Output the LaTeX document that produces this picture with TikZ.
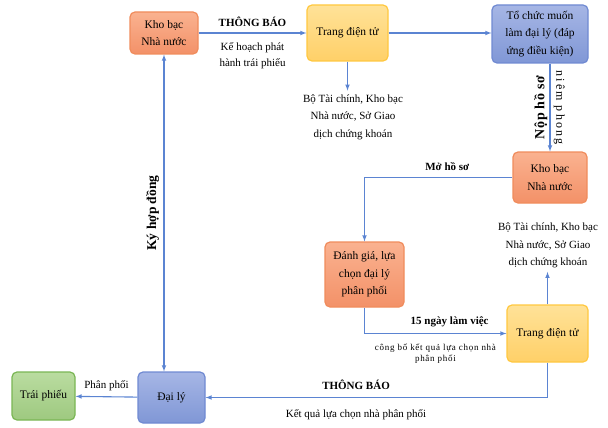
\documentclass[tikz,border=0pt]{standalone}
\usepackage{fontspec}
\setmainfont{Liberation Serif}
\usepackage{xcolor}
\usepackage{tikz}
\usetikzlibrary{shapes, arrows, positioning, calc}

\definecolor{lineblue}{RGB}{91,132,210}
\definecolor{orangetop}{RGB}{250,178,144}
\definecolor{orangebot}{RGB}{243,145,104}
\definecolor{orangeedge}{RGB}{240,140,92}
\definecolor{yellowtop}{RGB}{255,226,152}
\definecolor{yellowbot}{RGB}{255,208,104}
\definecolor{yellowedge}{RGB}{255,200,64}
\definecolor{bluetop}{RGB}{166,182,229}
\definecolor{bluebot}{RGB}{128,151,214}
\definecolor{blueedge}{RGB}{112,138,210}
\definecolor{greentop}{RGB}{186,220,160}
\definecolor{greenbot}{RGB}{158,201,128}
\definecolor{greenedge}{RGB}{122,182,84}

\tikzset{
  box/.style={draw, rounded corners=5pt, line width=1.2pt, align=center, inner sep=1pt, font=\fontsize{11.5}{17.5}\selectfont},
  orangebox/.style={box, draw=orangeedge, top color=orangetop, bottom color=orangebot},
  yellowbox/.style={box, draw=yellowedge, top color=yellowtop, bottom color=yellowbot},
  bluebox/.style={box, draw=blueedge, top color=bluetop, bottom color=bluebot},
  greenbox/.style={box, draw=greenedge, top color=greentop, bottom color=greenbot},
  lbl/.style={align=center, text=black, font=\fontsize{11}{15.5}\selectfont},
  boldlbl/.style={align=center, text=black, font=\fontsize{11}{15}\selectfont\bfseries},
  smalllbl/.style={align=center, text=black, font=\fontsize{9}{10.5}\selectfont\addfontfeature{LetterSpace=8}},
}

\begin{document}
\begin{tikzpicture}[x=1pt, y=-1pt, auto, line width=1.1pt, >=latex]
    \useasboundingbox (0,0) rectangle (608,428);

    % Nodes
    \node (kbtop) [orangebox, minimum width=68, minimum height=42] at (164,33) {Kho bạc\\Nhà nước};
    \node (trangtop) [yellowbox, minimum width=81, minimum height=56] at (347.5,33) {Trang điện tử};
    \node (tochuc) [bluebox, minimum width=96, minimum height=58] at (540,34) {Tổ chức muốn\\làm đại lý (đáp\\ứng điều kiện)};
    \node (botop) [lbl, font=\fontsize{11}{17.5}\selectfont] at (353,117) {Bộ Tài chính, Kho bạc\\Nhà nước, Sở Giao\\dịch chứng khoán};
    \node (kbmid) [orangebox, minimum width=74, minimum height=51] at (550,177.5) {Kho bạc\\Nhà nước};
    \node (danhgia) [orangebox, minimum width=79, minimum height=65] at (364.5,274.5) {Đánh giá, lựa\\chọn đại lý\\phân phối};
    \node (bobot) [lbl, font=\fontsize{11}{17.5}\selectfont] at (548,245.5) {Bộ Tài chính, Kho bạc\\Nhà nước, Sở Giao\\dịch chứng khoán};
    \node (trangbot) [yellowbox, minimum width=81, minimum height=57] at (547.5,333.5) {Trang điện tử};
    \node (daily) [bluebox, minimum width=67, minimum height=51] at (171.5,397.5) {Đại lý};
    \node (traiphieu) [greenbox, minimum width=63, minimum height=48] at (43.5,396) {Trái phiếu};

    % Connectors
    \draw [->, lineblue] (kbtop) -- node [above=3pt, boldlbl] {THÔNG BÁO} node [below=6pt, lbl] {Kế hoạch phát\\hành trái phiếu} (trangtop);
    \draw [->, lineblue] (trangtop.east) -- (trangtop.east -| tochuc.west);
    \draw [->, lineblue] (trangtop.south) -- (trangtop.south |- botop.north);
    \draw [->, lineblue] (tochuc.south -| kbmid.north) -- node [sloped, above=0pt, lbl, font=\fontsize{12}{15}\selectfont\addfontfeature{LetterSpace=18}] {niêm phong} (kbmid.north);
    \node [boldlbl, font=\fontsize{14}{15}\selectfont\bfseries\addfontfeature{LetterSpace=4}, rotate=90, anchor=south, inner sep=2pt] at ($(tochuc.south -| kbmid.north)!0.5!(kbmid.north)$) {Nộp hồ sơ};
    \draw [->, lineblue] (kbmid.west) -| node [pos=0.22, above=3pt, boldlbl] {Mở hồ sơ} (danhgia.north);
    \draw [->, lineblue] (danhgia.south) |- node [pos=0.8, above=3pt, boldlbl] {15 ngày làm việc} node [pos=0.75, below=7pt, smalllbl] {công bố kết quả lựa chọn nhà\\phân phối} (trangbot.west);
    \draw [->, lineblue] (trangbot.north) -- (trangbot.north |- bobot.south);
    \draw [->, lineblue] (trangbot.south) |- node [pos=0.78, above=4pt, boldlbl] {THÔNG BÁO} node [pos=0.78, below=8pt, lbl] {Kết quả lựa chọn nhà phân phối} (daily.east);
    \draw [->, lineblue] (daily) -- node [above=2pt, lbl] {Phân phối} (traiphieu);
    \draw [<->, lineblue] (kbtop.south |- daily.north) -- node [sloped, above=1pt, boldlbl, font=\fontsize{13.5}{15}\selectfont\bfseries] {Ký hợp đồng} (kbtop.south);

\end{tikzpicture}
\end{document}
